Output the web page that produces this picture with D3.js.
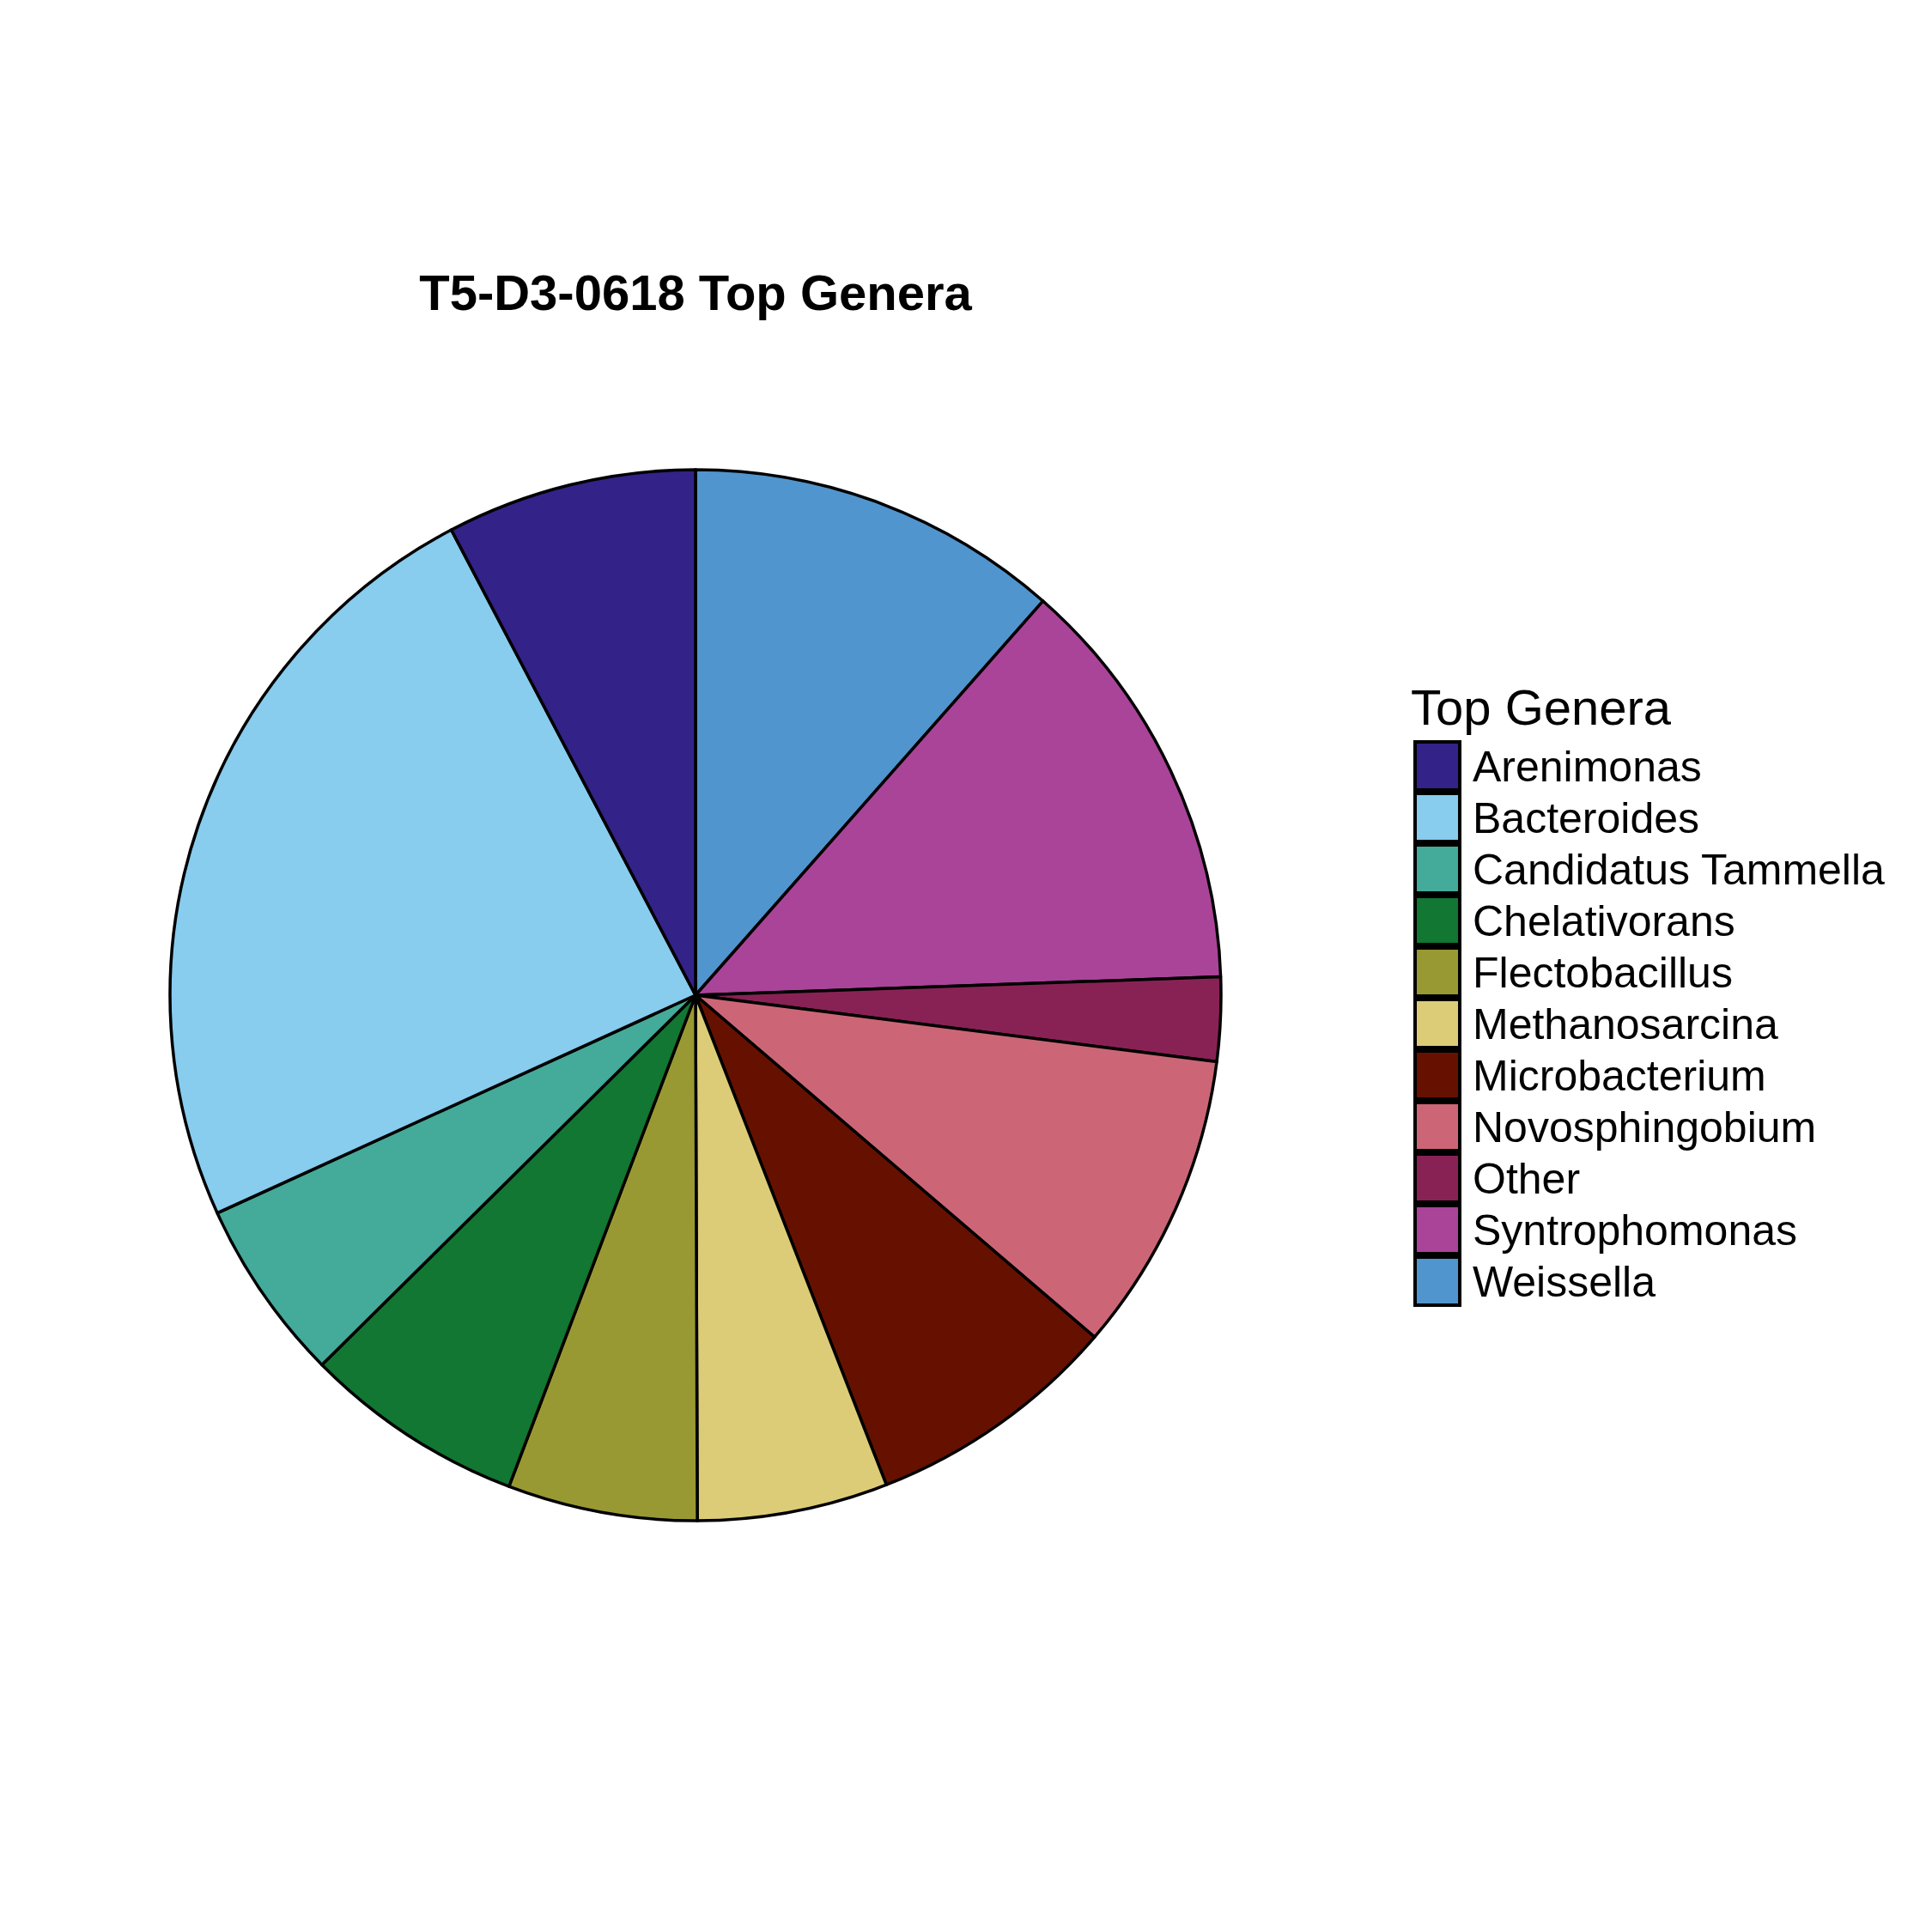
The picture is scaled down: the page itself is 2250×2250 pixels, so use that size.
<!DOCTYPE html>
<html>
<head>
<meta charset="utf-8">
<script src="https://cdn.jsdelivr.net/npm/d3@7"></script>
<style>
  html, body { margin: 0; padding: 0; background: #fff; }
  svg { display: block; }
</style>
</head>
<body>
<svg id="chart" width="2250" height="2250"></svg>
<script>
// Data (alphabetical, as in legend)
const genera = ["Arenimonas", "Bacteroides", "Candidatus Tammella", "Chelativorans", "Flectobacillus",
  "Methanosarcina", "Microbacterium", "Novosphingobium", "Other", "Syntrophomonas", "Weissella"];
const percents = [7.69, 24.11, 5.61, 6.81, 5.83, 5.86, 7.81, 9.25, 2.58, 12.94, 11.50];
const colors = ["#332288", "#88CCEE", "#44AA99", "#117733", "#999933", "#DDCC77",
  "#661100", "#CC6677", "#882255", "#AA4499", "#5095CD"];
const chartTitle = "T5-D3-0618 Top Genera";
const legendTitle = "Top Genera";

const svg = d3.select("#chart");
svg.append("rect").attr("width", 2250).attr("height", 2250).attr("fill", "#fff");

const cx = 810, cy = 1159, r = 612;

const color = d3.scaleOrdinal().domain(genera).range(colors);

// pie drawn clockwise from 12 o'clock in reverse alphabetical order
const rows = genera.map((g, i) => ({ genus: g, value: percents[i] })).reverse();
const pie = d3.pie().sort(null).value(d => d.value);
const arc = d3.arc().innerRadius(0).outerRadius(r);

const g = svg.append("g").attr("transform", `translate(${cx},${cy})`);
g.selectAll("path.slice")
  .data(pie(rows))
  .join("path")
  .attr("class", "slice")
  .attr("d", arc)
  .attr("fill", d => color(d.data.genus))
  .attr("stroke", "#000")
  .attr("stroke-width", 3.5)
  .attr("stroke-linejoin", "round");

// Title
svg.append("text")
  .attr("x", cx)
  .attr("y", 361)
  .attr("text-anchor", "middle")
  .attr("font-family", "Liberation Sans, Arial, Helvetica, sans-serif")
  .attr("font-weight", "bold")
  .attr("font-size", 58)
  .attr("fill", "#000")
  .text(chartTitle);

// Legend
const lx = 1646, ly0 = 862, keyW = 56, keyH = 60;
const legend = svg.append("g");
legend.append("text")
  .attr("x", 1643)
  .attr("y", 844)
  .attr("font-family", "Liberation Sans, Arial, Helvetica, sans-serif")
  .attr("font-size", 58)
  .attr("fill", "#000")
  .text(legendTitle);

const items = legend.selectAll("g.item")
  .data(genera)
  .join("g")
  .attr("class", "item")
  .attr("transform", (d, i) => `translate(${lx},${ly0 + i * keyH})`);

items.append("rect")
  .attr("x", 2)
  .attr("y", 2)
  .attr("width", keyW - 4)
  .attr("height", keyH - 4)
  .attr("fill", d => color(d))
  .attr("stroke", "#000")
  .attr("stroke-width", 4);

items.append("text")
  .attr("x", 69)
  .attr("y", keyH / 2 + 18)
  .attr("font-family", "Liberation Sans, Arial, Helvetica, sans-serif")
  .attr("font-size", 50)
  .attr("fill", "#000")
  .text(d => d);
</script>
</body>
</html>
